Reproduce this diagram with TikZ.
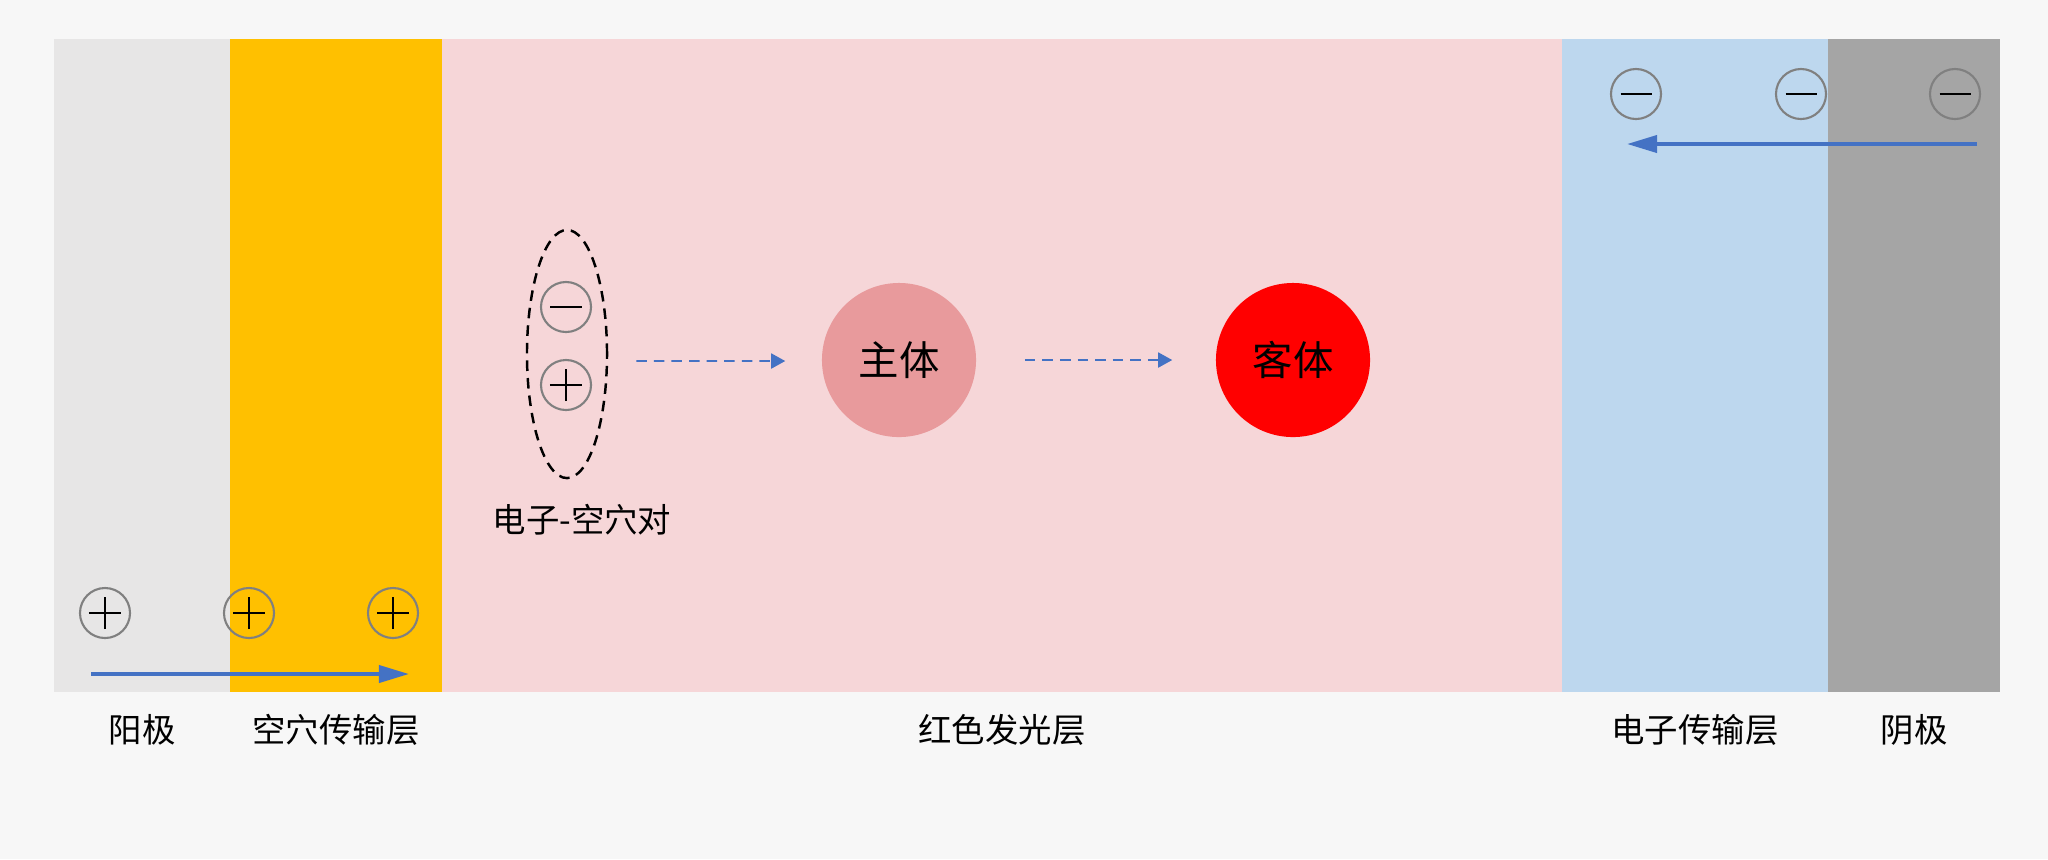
\documentclass[tikz,border=0pt]{standalone}
\usepackage{fontspec}
\setmainfont{Noto Sans CJK SC}
\usetikzlibrary{positioning,shapes.geometric,arrows.meta}
\definecolor{bgcol}{HTML}{F7F7F7}
\definecolor{anodecol}{HTML}{E7E6E6}
\definecolor{htlcol}{HTML}{FFC000}
\definecolor{emlcol}{HTML}{F6D6D8}
\definecolor{etlcol}{HTML}{BDD7EE}
\definecolor{cathodecol}{HTML}{A5A5A5}
\definecolor{hostcol}{HTML}{E89A9C}
\definecolor{guestcol}{HTML}{FF0000}
\definecolor{flowcol}{HTML}{4472C4}
\definecolor{chargegray}{HTML}{808080}
\newcommand{\oledlayer}[5]{\fill[#1] (#2,39) rectangle (#3,692);
        			\node[layerlabel] (#4) at ({(#2+#3)/2},730) {#5};}

\begin{document}
\begin{tikzpicture}[x=0.01cm, y=-0.01cm,
	layerlabel/.style={inner sep=0pt, font=\fontsize{9.5pt}{11pt}\selectfont},
	charge/.style={circle, draw=chargegray, line width=0.6pt, minimum size=0.5cm, inner sep=0pt},
	plus/.style={charge, path picture={
		\draw[black, line width=0.65pt] ([xshift=-0.16cm]path picture bounding box.center) -- ([xshift=0.16cm]path picture bounding box.center)
			([yshift=-0.16cm]path picture bounding box.center) -- ([yshift=0.16cm]path picture bounding box.center);}},
	minus/.style={charge, path picture={
		\draw[black, line width=0.65pt] ([xshift=-0.155cm]path picture bounding box.center) -- ([xshift=0.155cm]path picture bounding box.center);}},
	carrier/.style={flowcol, line width=1.1pt, -{Triangle[length=0.3cm, width=0.17cm]}},
	transfer/.style={flowcol, line width=0.5pt, dash pattern=on 3pt off 2pt, -{Triangle[length=0.14cm, width=0.15cm]}},
	emitter/.style={circle, minimum size=1.54cm, inner sep=0pt, font=\fontsize{11.5pt}{13pt}\selectfont}]

	% page and layer stack
	\fill[bgcol] (0,0) rectangle (2048,859);
	\oledlayer{anodecol}{54}{230}{anode}{阳极}
	\oledlayer{htlcol}{230}{442}{htl}{空穴传输层}
	\oledlayer{emlcol}{442}{1562}{eml}{红色发光层}
	\oledlayer{etlcol}{1562}{1828}{etl}{电子传输层}
	\oledlayer{cathodecol}{1828}{2000}{cathode}{阴极}

	% holes from the anode
	\node[plus] (h1) at (105,613) {};
	\node[plus] (h2) at (249,613) {};
	\node[plus] (h3) at (393,613) {};
	\coordinate (hstart) at (91,674);
	\coordinate (hend) at (409,674);
	\draw[carrier] (hstart) -- (hend);

	% electrons from the cathode
	\node[minus] (e1) at (1636,94) {};
	\node[minus] (e2) at (1801,94) {};
	\node[minus] (e3) at (1955,94) {};
	\coordinate (estart) at (1977,144);
	\coordinate (eend) at (1627,144);
	\draw[carrier] (estart) -- (eend);

	% exciton, host and guest
	\node[ellipse, draw, line width=0.7pt, dash pattern=on 3pt off 2pt, minimum width=0.8cm, minimum height=2.48cm, inner sep=0pt] (pair) at (567,354) {};
	\node[minus] (pe) at (566,307) {};
	\node[plus] (ph) at (566,385) {};
	\node[layerlabel] (pairlabel) at (582,520) {电子-空穴对};
	\node[emitter, fill=hostcol] (host) at (899,360) {主体};
	\node[emitter, fill=guestcol] (guest) at (1293,360) {客体};

	\draw[transfer, shorten <=0.28cm, shorten >=0.36cm] ([yshift=-0.07cm]pair.east) -- ([yshift=-0.01cm]host.west);
	\draw[transfer, shorten <=0.48cm, shorten >=0.43cm] (host) -- (guest);

\end{tikzpicture}
\end{document}
